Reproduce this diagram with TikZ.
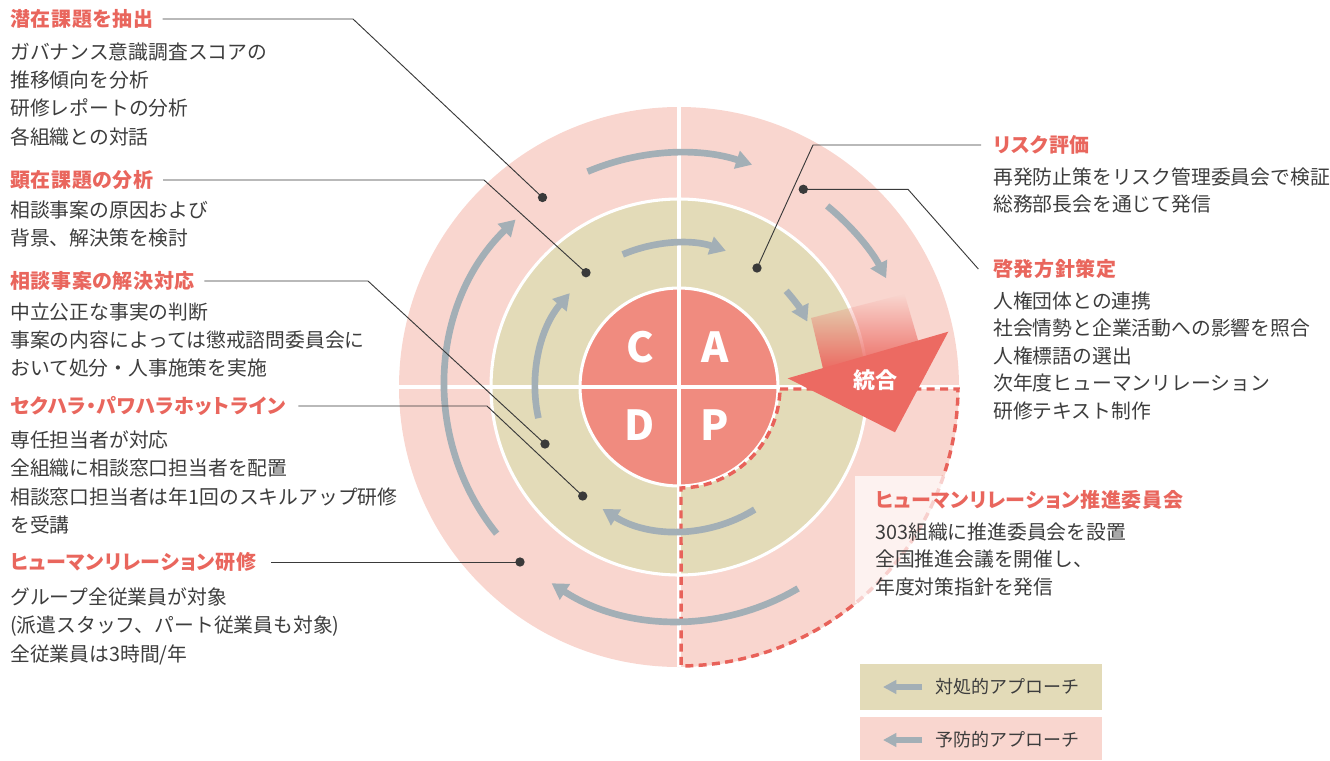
\documentclass[tikz,border=0pt]{standalone}
\usepackage{fontspec}
\newfontfamily\jp{Noto Sans CJK JP}
\newfontfamily\jph[RawFeature=+palt,LetterSpace=3]{Noto Sans CJK JP}
\usetikzlibrary{arrows.meta,fadings}
\definecolor{ringpink}{HTML}{F9D6CF}
\definecolor{beige}{HTML}{E3DBB8}
\definecolor{salmon}{HTML}{F08B7F}
\definecolor{headred}{HTML}{E9665D}
\definecolor{arrowred}{HTML}{EC6A62}
\definecolor{arrowgray}{HTML}{A3AFB6}
\definecolor{bodygray}{HTML}{3D3D3D}
\definecolor{leadc}{HTML}{3A3A3A}
\definecolor{dashred}{HTML}{E8625A}
\tikzfading[name=shaftfade, top color=transparent!100, bottom color=transparent!0]
\begin{document}
\begin{tikzpicture}[x=0.75pt,y=-0.75pt,font=\jp,
  head/.style={anchor=west, inner sep=0pt, text=headred, font=\jph\bfseries\fontsize{15pt}{18pt}\selectfont},
  body/.style={anchor=north west, inner sep=0pt, text=bodygray, align=left, font=\jp\fontsize{14.85pt}{21.2pt}\selectfont},
  bodyr/.style={body, font=\jp\fontsize{14.85pt}{20.6pt}\selectfont},
  dot/.style={circle, fill=leadc, inner sep=0pt, minimum size=7pt},
  leader/.style={draw=leadc, line width=0.7pt},
  garrow/.style={draw=arrowgray, line width=5pt, -{Triangle[length=12pt,width=13.5pt]}},
  legarrow/.style={draw=arrowgray, line width=4pt, -{Triangle[length=10pt,width=10pt]}},
  letter/.style={text=white, font=\jp\bfseries\fontsize{31pt}{31pt}\selectfont, inner sep=0pt},
  legtext/.style={anchor=west, inner sep=0pt, text=bodygray, font=\jp\fontsize{13.5pt}{16pt}\selectfont}
]
\useasboundingbox (0,0) rectangle (1330,760);
\coordinate (O) at (679,387);

% rings
\fill[ringpink] (O) circle[radius=280];
\fill[beige] (O) circle[radius=188];
\draw[white, line width=2.3pt] (O) circle[radius=188];
\fill[salmon] (O) circle[radius=99];
\draw[white, line width=2.3pt] (O) circle[radius=99];
\draw[white, line width=2.3pt] (679,107) -- (679,667);
\draw[white, line width=2.3pt] (399,387) -- (959,387);

% dashed sector
\draw[dashred, line width=2.6pt, dash pattern=on 6pt off 4pt]
  (780,389) -- (958,389) arc[start angle=0.41, end angle=89.59, radius=279]
  -- (681,488) arc[start angle=88.87, end angle=1.13, radius=101] -- cycle;

% gray cycle arrows, outer ring
\draw[garrow] (O) ++(-113:234) arc[start angle=-113, end angle=-71.8, radius=234];
\draw[garrow] (O) ++(-50.7:234) arc[start angle=-50.7, end angle=-27.7, radius=234];
\draw[garrow] (O) ++(59.4:234) arc[start angle=59.4, end angle=123, radius=234];
\draw[garrow] (O) ++(141.2:234) arc[start angle=141.2, end angle=225.7, radius=234];
% middle ring
\draw[garrow] (O) ++(-113:144) arc[start angle=-113, end angle=-71, radius=144];
\draw[garrow] (O) ++(-41.9:144) arc[start angle=-41.9, end angle=-27, radius=144];
\draw[garrow] (O) ++(58.3:144) arc[start angle=58.3, end angle=122.1, radius=144];
\draw[garrow] (O) ++(167.5:144) arc[start angle=167.5, end angle=220.7, radius=144];

% integration arrow
\fill[arrowred, path fading=shaftfade] (823.3,370) -- (811,318) -- (904.5,294) -- (918.3,341.5) -- cycle;
\fill[arrowred] (787.7,378.3) -- (948.3,331.7) -- (895,432.3) -- cycle;
\node[text=white, font=\jp\bfseries\fontsize{16.5pt}{18pt}\selectfont, inner sep=0pt] (tg) at (875,380) {統合};

% PDCA letters
\node[letter] (lc) at (640,347) {C};
\node[letter] (la) at (715,347) {A};
\node[letter] (ld) at (640,425) {D};
\node[letter] (lp) at (715,425) {P};

% translucent box behind committee text
\fill[white, opacity=0.7] (855,476) rectangle (1195,603);

% left texts
\node[head] (h1) at (10,19) {潜在課題を抽出};
\node[body] (b1) at (10,42.5) {ガバナンス意識調査スコアの\\推移傾向を分析\\研修レポートの分析\\各組織との対話};
\node[head] (h2) at (10,180) {顕在課題の分析};
\node[body] (b2) at (10,200.5) {相談事案の原因および\\背景、解決策を検討};
\node[head] (h3) at (10,281) {相談事案の解決対応};
\node[body] (b3) at (10,302.5) {中立公正な事実の判断\\事案の内容によっては懲戒諮問委員会に\\おいて処分・人事施策を実施};
\node[head] (h4) at (10,406) {セクハラ・パワハラホットライン};
\node[body] (b4) at (10,430.5) {専任担当者が対応\\全組織に相談窓口担当者を配置\\相談窓口担当者は年1回のスキルアップ研修\\を受講};
\node[head] (h5) at (10,562) {ヒューマンリレーション研修};
\node[body] (b5) at (10,587.5) {グループ全従業員が対象\\(派遣スタッフ、パート従業員も対象)\\全従業員は3時間/年};

% right texts
\node[head] (r1) at (993,145) {リスク評価};
\node[bodyr] (rb1) at (993,167.5) {再発防止策をリスク管理委員会で検証\\総務部長会を通じて発信};
\node[head] (r2) at (993,269) {啓発方針策定};
\node[bodyr] (rb2) at (993,291.5) {人権団体との連携\\社会情勢と企業活動への影響を照合\\人権標語の選出\\次年度ヒューマンリレーション\\研修テキスト制作};
\node[head] (r3) at (875,500) {ヒューマンリレーション推進委員会};
\node[bodyr] (rb3) at (875,522.5) {303組織に推進委員会を設置\\全国推進会議を開催し、\\年度対策指針を発信};

% leader lines
\coordinate (c1) at (353,19);
\coordinate (c2) at (484,180);
\coordinate (c3) at (368,281);
\coordinate (c4) at (487,406);
\coordinate (c6) at (813,145);
\coordinate (c7) at (908,189.3);
\node[dot] (d1) at (542.5,197.5) {};
\node[dot] (d2) at (586,272.7) {};
\node[dot] (d3) at (545,444) {};
\node[dot] (d4) at (582.7,496) {};
\node[dot] (d5) at (520,562) {};
\node[dot] (d6) at (757,268) {};
\node[dot] (d7) at (803.3,189.3) {};
\draw[leader] ([xshift=7]h1.east) -- (h1.east -| c1) -- (d1.center);
\draw[leader] ([xshift=7]h2.east) -- (h2.east -| c2) -- (d2.center);
\draw[leader] ([xshift=7]h3.east) -- (h3.east -| c3) -- (d3.center);
\draw[leader] ([xshift=9]h4.east) -- (h4.east -| c4) -- (d4.center);
\draw[leader] ([xshift=11]h5.east) -- (d5.center);
\draw[leader] (d6.center) -- (c6) -- ([xshift=-9]r1.west);
\draw[leader] (d7.center) -- (c7) -- ([xshift=-11]r2.west);

% legend
\fill[beige] (860,664) rectangle (1102,710);
\fill[ringpink] (860,717) rectangle (1102,760);
\coordinate (la1) at (922,687);
\coordinate (la1e) at (883,687);
\coordinate (la2) at (922,740);
\coordinate (la2e) at (883,740);
\draw[legarrow] (la1) -- (la1e);
\draw[legarrow] (la2) -- (la2e);
\node[legtext] (lt1) at (935,687) {対処的アプローチ};
\node[legtext] (lt2) at (935,740) {予防的アプローチ};
\end{tikzpicture}
\end{document}
